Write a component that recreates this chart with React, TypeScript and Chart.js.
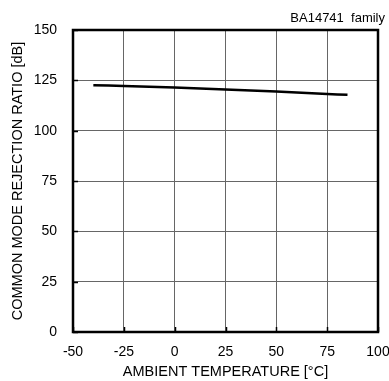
import React, { useEffect, useRef } from "react";
import { Chart, registerables } from "chart.js";

Chart.register(...registerables);

const temperatures = [-40, -25, 0, 25, 50, 65, 75, 85];
const cmrrValues = [122.6, 122.2, 121.4, 120.5, 119.4, 118.7, 118.2, 117.8];
const xTicks = [-50, -25, 0, 25, 50, 75, 100];
const yTicks = [0, 25, 50, 75, 100, 125, 150];
const chartLabel = "BA14741  family";
const xTitle = "AMBIENT TEMPERATURE [°C]";
const yTitle = "COMMON MODE REJECTION RATIO [dB]";

const FONT = "'Liberation Sans', Arial, sans-serif";

const frame = {
  id: "frame",
  afterDatasetsDraw(chart: any) {
    const { ctx, chartArea } = chart;
    const xs = chart.scales.x;
    const ys = chart.scales.y;
    ctx.save();
    ctx.strokeStyle = "#000";
    ctx.lineWidth = 1.5;
    ctx.beginPath();
    xTicks.forEach((v) => {
      const px = Math.round(xs.getPixelForValue(v)) + 0.5;
      ctx.moveTo(px, chartArea.bottom);
      ctx.lineTo(px, chartArea.bottom - 5);
    });
    yTicks.forEach((v) => {
      const py = Math.round(ys.getPixelForValue(v)) + 0.5;
      ctx.moveTo(chartArea.left, py);
      ctx.lineTo(chartArea.left + 5, py);
    });
    ctx.stroke();
    ctx.lineWidth = 2.5;
    ctx.strokeRect(chartArea.left, chartArea.top, chartArea.right - chartArea.left, chartArea.bottom - chartArea.top);
    ctx.fillStyle = "#000";
    ctx.font = "13px " + FONT;
    ctx.textAlign = "right";
    ctx.textBaseline = "alphabetic";
    ctx.fillText(chartLabel, chartArea.right + 7, chartArea.top - 8);
    ctx.restore();
  },
};

export default function App() {
  const ref = useRef<HTMLCanvasElement>(null);
  useEffect(() => {
    if (!ref.current) return;
    const chart = new Chart(ref.current, {
      type: "scatter",
      data: {
        datasets: [
          {
            data: temperatures.map((t, i) => ({ x: t, y: cmrrValues[i] })),
            showLine: true,
            borderColor: "#000",
            borderWidth: 2.5,
            pointRadius: 0,
            tension: 0.3,
          },
        ],
      },
      options: {
        animation: false,
        responsive: false,
        maintainAspectRatio: false,
        layout: { padding: { top: 30, right: 11, left: 0, bottom: 0 } },
        plugins: { legend: { display: false }, tooltip: { enabled: false } },
        scales: {
          x: {
            type: "linear",
            min: xTicks[0],
            max: xTicks[xTicks.length - 1],
            afterBuildTicks: (s: any) => {
              s.ticks = xTicks.map((v) => ({ value: v }));
            },
            afterFit: (s: any) => {
              s.height = 49;
              s.paddingLeft = 0;
              s.paddingRight = 0;
            },
            grid: { color: "#666", lineWidth: 1, drawTicks: false },
            border: { display: false },
            ticks: { color: "#000", font: { family: FONT, size: 14 }, padding: 12, maxRotation: 0 },
            title: { display: true, text: xTitle, color: "#000", font: { family: FONT, size: 14.5 }, padding: { top: 2, bottom: 0 } },
          },
          y: {
            type: "linear",
            min: yTicks[0],
            max: yTicks[yTicks.length - 1],
            afterBuildTicks: (s: any) => {
              s.ticks = yTicks.map((v) => ({ value: v }));
            },
            afterFit: (s: any) => {
              s.width = 73;
              s.paddingTop = 0;
              s.paddingBottom = 0;
            },
            grid: { color: "#666", lineWidth: 1, drawTicks: false },
            border: { display: false },
            ticks: { color: "#000", font: { family: FONT, size: 14 }, padding: 16 },
            title: { display: true, text: yTitle, color: "#000", font: { family: FONT, size: 14.5 }, padding: { top: 9, bottom: 0 } },
          },
        },
      },
      plugins: [frame],
    });
    return () => chart.destroy();
  }, []);
  return (
    <div style={{ position: "absolute", left: 0, top: 0, width: 389, height: 381, background: "#fff" }}>
      <canvas ref={ref} width={389} height={381} style={{ width: 389, height: 381 }} />
    </div>
  );
}
